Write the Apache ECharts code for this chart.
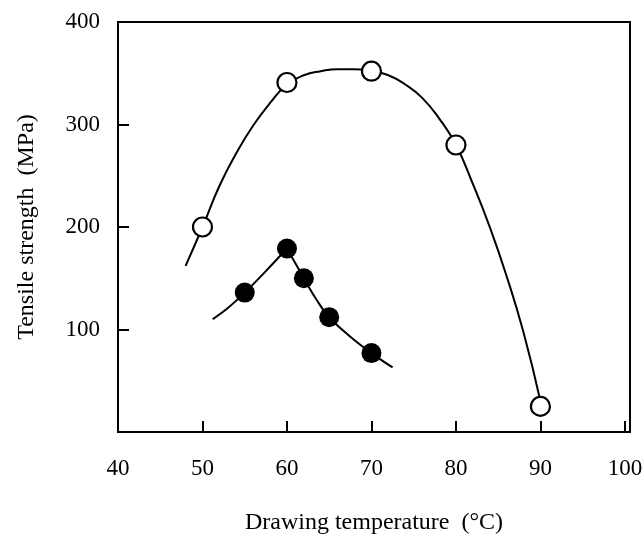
<!DOCTYPE html>
<html>
<head>
<meta charset="utf-8">
<script src="https://cdn.jsdelivr.net/npm/echarts@6/dist/echarts.min.js"></script>
<style>html,body{margin:0;padding:0;background:#fff}#c{width:643px;height:536px}</style>
</head>
<body>
<div id="c"></div>
<script>
// Measured points
const openPoints = [[50,200],[60,341],[70,352],[80,280],[90,25]];
const filledPoints = [[55,136],[60,179],[62,150],[65,112],[70,77]];
// Fitted curves
const openCurve = [[48,162],[50,200],[52,240],[54,272],[56,299],[58,321],[60,339],[62,348],[64,352],[66,354],[68,354],[70,352],[72,348],[74,339],[76,326],[78,306],[80,280],[82,242],[84,200],[86,152],[88,97],[90,30]];
const filledCurveLeft = [[51.2,110],[53,121],[55,136],[57.5,157],[60,179]];
const filledCurveRight = [[60,179],[62,150],[63.5,129],[65,112],[67.5,93],[70,77],[72.5,63]];
const xTicks = [40,50,60,70,80,90,100];
const yTicks = [100,200,300,400];

const font = 'Liberation Serif';
const chart = echarts.init(document.getElementById('c'));
chart.setOption({
  backgroundColor:'#fff',
  animation:false,
  grid:{left:118,right:13,top:22,bottom:104,containLabel:false,outerBoundsMode:'none',show:true,borderColor:'#000',borderWidth:2,backgroundColor:'transparent'},
  xAxis:{
    type:'value',min:40,max:100.6,interval:10,
    name:'Drawing temperature  (°C)',nameLocation:'middle',nameGap:79,
    nameTextStyle:{fontFamily:font,fontSize:24,color:'#000'},
    axisLine:{lineStyle:{color:'#000',width:2}},
    axisTick:{inside:true,length:11,lineStyle:{color:'#000',width:2}},
    axisLabel:{fontFamily:font,fontSize:23,color:'#000',margin:25,
      formatter:v=>xTicks.includes(Math.round(v*10)/10)?String(v):''},
    splitLine:{show:false}
  },
  yAxis:{
    type:'value',min:0,max:400,interval:100,
    name:'Tensile strength  (MPa)',nameLocation:'middle',nameGap:79,
    nameTextStyle:{fontFamily:font,fontSize:24,color:'#000'},
    axisLine:{show:true,lineStyle:{color:'#000',width:2}},
    axisTick:{show:true,inside:true,length:11,lineStyle:{color:'#000',width:2}},
    axisLabel:{fontFamily:font,fontSize:23,color:'#000',margin:18,
      formatter:v=>yTicks.includes(v)?String(v):''},
    splitLine:{show:false}
  },
  series:[
    {type:'line',data:openCurve,smooth:0.5,showSymbol:false,lineStyle:{color:'#000',width:2},z:2},
    {type:'line',data:filledCurveLeft,smooth:0.4,showSymbol:false,lineStyle:{color:'#000',width:2},z:2},
    {type:'line',data:filledCurveRight,smooth:0.4,showSymbol:false,lineStyle:{color:'#000',width:2},z:2},
    {type:'scatter',data:openPoints,symbol:'circle',symbolSize:19,itemStyle:{color:'#fff',borderColor:'#000',borderWidth:2.2,opacity:1},z:5},
    {type:'scatter',data:filledPoints,symbol:'circle',symbolSize:20,itemStyle:{color:'#000',opacity:1},z:5}
  ]
});
</script>
</body>
</html>
